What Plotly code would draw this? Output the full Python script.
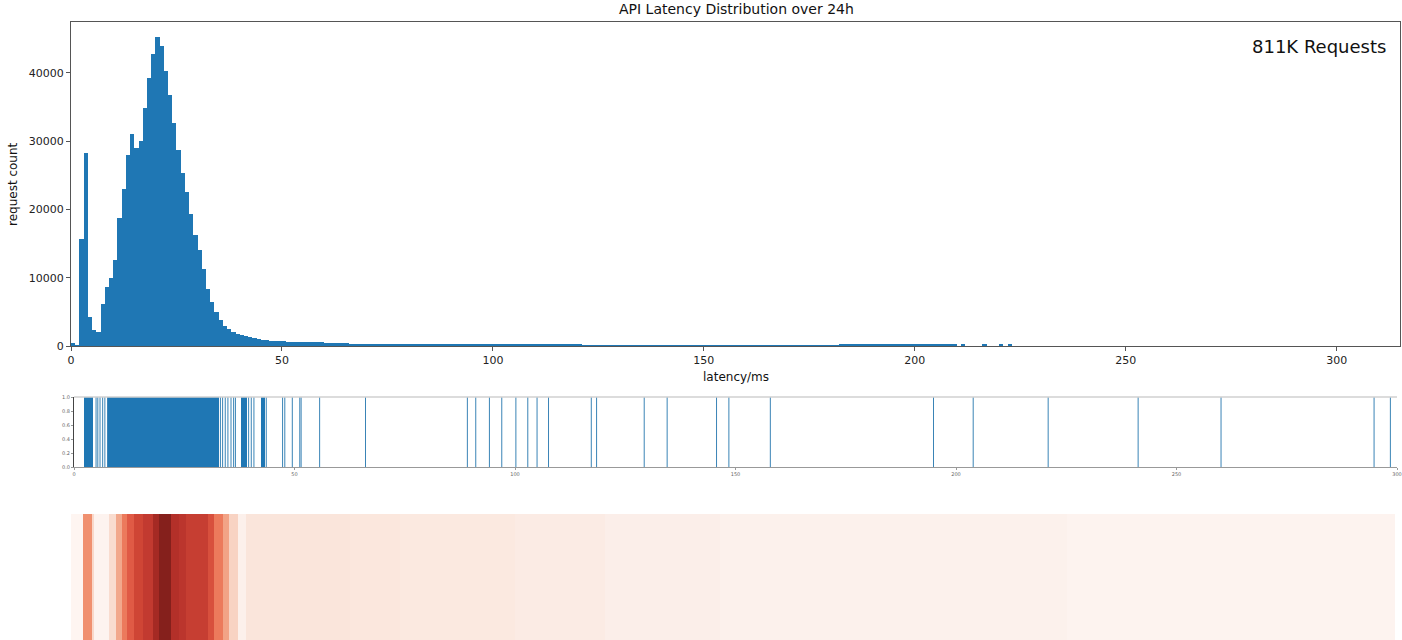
import plotly.graph_objects as go

W, H = 1402, 640
BLUE = "#1f77b4"
FONT = "DejaVu Sans"

# ---------------- data ----------------
bin_width = 1.0  # ms
hist_counts = [
    500, 80, 15700, 28300, 4200, 2300, 2000, 6100, 8600, 10000,
    12600, 18700, 23000, 28000, 31000, 29000, 30000, 34800, 39300, 42800,
    45300, 44000, 40300, 36800, 32600, 28700, 25400, 22500, 19300, 16200,
    14000, 11300, 8400, 6400, 5000, 3800, 3000, 2500, 2100, 1800,
    1600, 1400, 1250, 1100, 1000, 950, 850, 800, 750, 700,
    700, 660, 640, 620, 610, 600, 580, 560, 540, 520,
    480, 420, 400, 390, 380, 370, 360, 360, 350, 350,
    340, 340, 330, 330, 330, 320, 320, 310, 300, 300,
    290, 260, 310, 300, 240, 300, 310, 320, 300, 310,
    250, 310, 300, 230, 310, 320, 300, 310, 320, 300,
    310, 240, 300, 290, 250, 300, 310, 300, 240, 300,
    290, 300, 280, 300, 290, 280, 290, 300, 260, 200,
    150, 140, 140, 130, 140, 130, 130, 120, 130, 130,
    120, 130, 120, 120, 130, 120, 120, 110, 120, 120,
    110, 120, 110, 110, 120, 110, 110, 110, 100, 110,
    110, 100, 110, 100, 100, 110, 100, 100, 100, 110,
    100, 100, 90, 100, 100, 90, 100, 100, 90, 100,
    90, 100, 90, 90, 100, 90, 90, 100, 90, 90,
    100, 110, 150, 280, 240, 180, 280, 290, 270, 280,
    180, 270, 280, 190, 280, 270, 280, 290, 260, 200,
    280, 270, 200, 280, 290, 270, 280, 270, 260, 200,
    0, 150, 0, 0, 0, 0, 160, 0, 0, 0,
    150, 0, 150, 0, 0,
]
hist_x_ticks = [0, 50, 100, 150, 200, 250, 300]
hist_y_ticks = [0, 10000, 20000, 30000, 40000]
total_label = "811K Requests"

# rug: dense spans (start, end in ms) and isolated sample latencies
rug_span_start = [2.3, 7.8, 37.9, 42.3]
rug_span_end = [4.4, 32.8, 39.2, 43.2]
rug_points = [5.0, 5.4, 5.9, 6.5, 7.0, 7.6, 33.2, 33.7, 34.3, 34.9, 35.6, 36.2,
              36.6, 39.6, 40.2, 40.8, 43.6, 47.3, 47.8, 49.5, 51.2, 51.5, 55.7,
              66.1, 89.2, 91.1, 94.2, 97.0, 100.2, 102.9, 105.0, 107.6, 117.3,
              118.5, 129.3, 134.5, 145.7, 148.5, 157.9, 194.9, 203.9, 220.9,
              241.3, 260.1, 294.8, 298.5]
rug_y_ticks = [0.0, 0.2, 0.4, 0.6, 0.8, 1.0]

# heat strip: column edges (ms) and intensity
heat_edges = [0, 2.8, 4.8, 5.3, 8.7, 10.2, 11.5, 12.8, 14.3, 16.2, 18.5, 19.9,
              22.7, 24.5, 26.1, 31.0, 32.5, 34.4, 35.9, 37.8, 39.7, 63.2, 74.6,
              100.6, 121.0, 147.0, 225.7, 300.0]
heat_values = [0.02, 0.50, 0.22, 0.05, 0.20, 0.40, 0.60, 0.70, 0.78, 0.84, 0.93,
               1.00, 0.88, 0.86, 0.82, 0.74, 0.60, 0.42, 0.25, 0.09, 0.16, 0.15,
               0.135, 0.12, 0.10, 0.08, 0.05]

# ---------------- figure ----------------
def px_x(p):
    return p / W

def px_y(p):
    return 1 - p / H

fig = go.Figure()

bin_centers = [i * bin_width + bin_width / 2 for i in range(len(hist_counts))]
fig.add_trace(go.Bar(x=bin_centers, y=hist_counts, width=bin_width,
                     marker=dict(color=BLUE, line=dict(width=0)),
                     xaxis="x", yaxis="y", showlegend=False))

# rug spans
fig.add_trace(go.Bar(x=[(s + e) / 2 for s, e in zip(rug_span_start, rug_span_end)],
                     y=[1] * len(rug_span_start),
                     width=[e - s for s, e in zip(rug_span_start, rug_span_end)],
                     marker=dict(color=BLUE, line=dict(width=0)),
                     xaxis="x2", yaxis="y2", showlegend=False))
# rug single lines
rx, ry = [], []
for p in rug_points:
    rx += [p, p, None]
    ry += [0, 1, None]
fig.add_trace(go.Scatter(x=rx, y=ry, mode="lines",
                         line=dict(color="#3a84b6", width=1),
                         xaxis="x2", yaxis="y2", showlegend=False, hoverinfo="skip"))

colorscale = [[0.0, "#fef6f2"], [0.05, "#fdf3ef"], [0.08, "#fcf1ec"],
              [0.10, "#fbeee9"], [0.12, "#fbebe4"], [0.14, "#fbe8df"],
              [0.17, "#fae4d9"], [0.20, "#f9dccf"], [0.25, "#f8d3c3"],
              [0.40, "#f2a88c"], [0.50, "#f0906f"], [0.60, "#ec7a5c"],
              [0.70, "#e05a45"], [0.78, "#cf4535"], [0.84, "#c23a30"],
              [0.88, "#b33029"], [0.93, "#a52a24"], [1.0, "#85201c"]]
fig.add_trace(go.Heatmap(x=heat_edges, y=[0, 1], z=[heat_values],
                         colorscale=colorscale, zmin=0, zmax=1, showscale=False,
                         xaxis="x3", yaxis="y3"))

axis_line = "#555555"
tickfont = dict(family=FONT, size=11, color="#222222")
tiny = dict(family=FONT, size=5, color="#666666")

fig.update_layout(
    template="none",
    width=W, height=H,
    margin=dict(l=0, r=0, t=0, b=0, pad=0),
    paper_bgcolor="white", plot_bgcolor="white",
    bargap=0, barmode="overlay",
    font=dict(family=FONT),
    xaxis=dict(domain=[px_x(71), px_x(1400)], range=[0, 315],
               tickvals=hist_x_ticks, ticks="outside", ticklen=4,
               tickcolor=axis_line, showline=True, linecolor=axis_line,
               linewidth=1, mirror=True, showgrid=False, zeroline=False,
               tickfont=tickfont, anchor="y", fixedrange=True, automargin=False),
    yaxis=dict(domain=[px_y(346), px_y(22)], range=[0, 47470],
               tickvals=hist_y_ticks, tickformat="d", ticks="outside", ticklen=4,
               tickcolor=axis_line, showline=True, linecolor=axis_line,
               linewidth=1, mirror=True, showgrid=False, zeroline=False,
               tickfont=tickfont, anchor="x", fixedrange=True, automargin=False),
    xaxis2=dict(domain=[px_x(74), px_x(1397)], range=[0, 300],
                tickvals=hist_x_ticks, ticks="outside", ticklen=2,
                tickcolor="#999999", showline=True, linecolor="#999999",
                linewidth=1, showgrid=False, zeroline=False,
                tickfont=tiny, anchor="y2", fixedrange=True, automargin=False),
    yaxis2=dict(domain=[px_y(467), px_y(397)], range=[0, 1],
                tickvals=rug_y_ticks, tickformat=".1f", ticks="outside",
                ticklen=2, tickcolor="#999999", showline=True,
                linecolor="#444444", linewidth=1, showgrid=False,
                zeroline=False, tickfont=tiny, anchor="x2", fixedrange=True,
                automargin=False),
    xaxis3=dict(domain=[px_x(71), px_x(1395)], range=[0, 300], visible=False,
                anchor="y3", fixedrange=True, automargin=False),
    yaxis3=dict(domain=[0, px_y(514)], range=[0, 1], visible=False,
                anchor="x3", fixedrange=True, automargin=False),
    shapes=[dict(type="line", xref="x2 domain", yref="y2 domain",
                 x0=0, x1=1, y0=1, y1=1,
                 line=dict(color="#d0d0d0", width=1.5))],
    annotations=[
        dict(text="API Latency Distribution over 24h", xref="paper", yref="paper",
             x=px_x(736), y=px_y(9), showarrow=False,
             font=dict(family=FONT, size=14, color="#111111"),
             xanchor="center", yanchor="middle"),
        dict(text="latency/ms", xref="paper", yref="paper",
             x=px_x(736), y=px_y(377), showarrow=False,
             font=dict(family=FONT, size=12, color="#111111"),
             xanchor="center", yanchor="middle"),
        dict(text="request count", xref="paper", yref="paper",
             x=px_x(13), y=px_y(184), showarrow=False, textangle=-90,
             font=dict(family=FONT, size=12, color="#111111"),
             xanchor="center", yanchor="middle"),
        dict(text=total_label, xref="paper", yref="paper",
             x=px_x(1388), y=px_y(46), showarrow=False,
             font=dict(family=FONT, size=18, color="#111111"),
             xanchor="right", yanchor="middle"),
    ],
)

fig.write_html("out.html")
